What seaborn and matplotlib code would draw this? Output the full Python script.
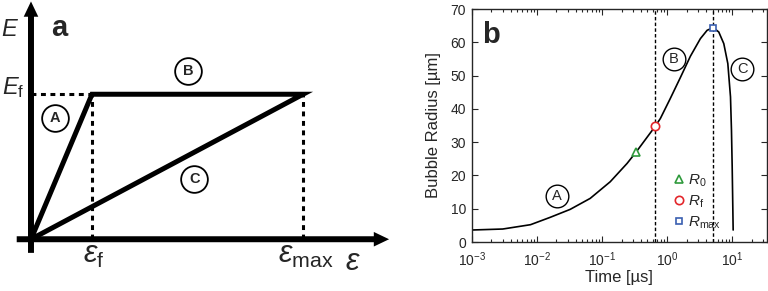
import seaborn as sns
import pandas as pd
import matplotlib
matplotlib.use('Agg')
import matplotlib.pyplot as plt
from matplotlib.patches import FancyArrowPatch
from matplotlib.lines import Line2D

sns.set_style('ticks')
plt.rcParams['font.family'] = ['Liberation Sans', 'DejaVu Sans']
plt.rcParams['mathtext.fontset'] = 'custom'
plt.rcParams['mathtext.rm'] = 'Liberation Sans'
plt.rcParams['mathtext.it'] = 'Liberation Sans:italic'
plt.rcParams['mathtext.bf'] = 'Liberation Sans:bold'

# panel a: schematic, strain in units of eps_f, energy in units of E_f
eps_f = 1.0
eps_max = 4.46
E_f = 1.0

# panel b: bubble radius vs time
time_us = [0.001, 0.003, 0.008, 0.016, 0.0325, 0.066, 0.134, 0.243, 0.337,
           0.66, 0.789, 1.12, 1.60, 2.28, 3.25, 4.12, 5.1, 6.22, 7.43,
           8.57, 9.42, 9.75, 10.0, 10.35]
radius_um = [3.6, 3.9, 5.2, 7.4, 9.8, 13.1, 18.1, 23.6, 27.1,
             34.8, 37.1, 43.1, 49.4, 55.8, 61.1, 63.6, 64.4, 63.1, 59.6,
             53.6, 43.6, 33.6, 22.6, 3.6]
t_R0, R0 = 0.337, 27.1
t_Rf, Rf = 0.66, 34.8
t_Rmax, Rmax = 5.1, 64.4

green = '#2f9a3c'
red = '#e3262b'
blue = '#3a5fb0'

fig = plt.figure(figsize=(7.68, 2.91), dpi=100)

# ---------------- panel a ----------------
ax_a = fig.add_axes([0, 0, 390 / 768, 1])
ax_a.set_xlim(-0.508, 5.885)
ax_a.set_ylim(-0.357, 1.650)
ax_a.axis('off')

arrow_style = 'simple,head_length=11,head_width=10.5,tail_width=4.3'
for start, end in [((0, -0.094), (0, 1.64)), ((-0.234, 0), (5.87, 0))]:
    ax_a.add_patch(FancyArrowPatch(start, end, arrowstyle=arrow_style,
                                   mutation_scale=1, color='k', lw=0,
                                   shrinkA=0, shrinkB=0, clip_on=False))

dash = (0, (1.6, 1.5))
ax_a.plot([0, eps_f], [E_f, E_f], color='k', lw=2.2, ls=dash)
ax_a.plot([eps_f, eps_f], [0, E_f], color='k', lw=2.2, ls=dash)
ax_a.plot([eps_max, eps_max], [0, E_f], color='k', lw=2.2, ls=dash)

# A -> B -> C as one path
ax_a.plot([0, eps_f, eps_max, 0], [0, E_f, E_f, 0], color='k', lw=3.6,
          solid_joinstyle='miter', solid_capstyle='butt')

ax_a.text(-0.48, 1.402, 'E', fontsize=17, style='italic', ha='left', va='baseline')
ax_a.text(-0.48, 1.0, r'$E_\mathrm{f}$', fontsize=17, ha='left', va='baseline')
ax_a.text(0.33, 1.40, 'a', fontsize=21, fontweight='bold', ha='left', va='baseline')
ax_a.text(0.858, -0.166, r'$\varepsilon_\mathrm{f}$', fontsize=22, ha='left', va='baseline')
ax_a.text(4.054, -0.166, r'$\varepsilon_\mathrm{max}$', fontsize=22, ha='left', va='baseline')
ax_a.text(5.15, -0.212, r'$\varepsilon$', fontsize=22, ha='left', va='baseline')

phase_a = {'A': (0.395, 0.838), 'B': (2.58, 1.162), 'C': (2.68, 0.416)}
for lab, (x, y) in phase_a.items():
    ax_a.scatter([x], [y], s=370, facecolors='white', edgecolors='k', linewidths=1.3, zorder=5)
    ax_a.text(x, y, lab, fontsize=10.5, fontweight='bold', ha='center', va='center', zorder=6)

# ---------------- panel b ----------------
ax_b = fig.add_axes([471.7 / 768, 1 - 242 / 291, 295 / 768, 233 / 291])
df = pd.DataFrame({'time': time_us, 'radius': radius_um})
sns.lineplot(data=df, x='time', y='radius', ax=ax_b, color='k', lw=1.2,
             sort=False, estimator=None)
ax_b.set_xscale('log')
ax_b.set_xlim(1e-3, 10 ** 1.53)
ax_b.set_ylim(0, 70)
ax_b.set_yticks(range(0, 71, 10))

vdash = (0, (2.5, 1.6))
ax_b.axvline(t_Rf, color='k', lw=1, ls=vdash)
ax_b.axvline(t_Rmax, color='k', lw=1, ls=vdash)

ax_b.plot([t_R0], [R0], marker='^', ms=6, mfc='white', mec=green, mew=1.2, zorder=5)
ax_b.plot([t_Rf], [Rf], marker='o', ms=6, mfc='white', mec=red, mew=1.2, zorder=5)
ax_b.plot([t_Rmax], [Rmax], marker='s', ms=5, mfc='white', mec=blue, mew=1.2, zorder=5)

handles = [
    Line2D([], [], ls='none', marker='^', ms=6, mfc='white', mec=green, mew=1.2),
    Line2D([], [], ls='none', marker='o', ms=6, mfc='white', mec=red, mew=1.2),
    Line2D([], [], ls='none', marker='s', ms=5, mfc='white', mec=blue, mew=1.2),
]
labels = [r'$R_0$', r'$R_\mathrm{f}$', r'$R_\mathrm{max}$']
ax_b.legend(handles, labels, frameon=False, fontsize=11, handlelength=0.6,
            handletextpad=0.3, labelspacing=0.3, borderpad=0,
            loc='upper left', bbox_to_anchor=(0.66, 0.33))

phase_b = {'A': (0.0203, 13.8), 'B': (1.26, 55.1), 'C': (14.3, 52.1)}
for lab, (x, y) in phase_b.items():
    ax_b.scatter([x], [y], s=266, facecolors='white', edgecolors='k', linewidths=1.0, zorder=5)
    ax_b.text(x, y, lab, fontsize=10.5, ha='center', va='center', zorder=6)

ax_b.text(0.034, 0.853, 'b', transform=ax_b.transAxes, fontsize=21,
          fontweight='bold', ha='left', va='baseline')

ax_b.tick_params(which='both', direction='in', top=True, right=True, labelsize=10, width=0.8)
ax_b.tick_params(which='major', length=4)
ax_b.tick_params(which='minor', length=2)
ax_b.tick_params(axis='x', pad=6)
ax_b.tick_params(axis='y', pad=4)
for s in ax_b.spines.values():
    s.set_linewidth(1.0)
ax_b.set_xlabel('Time [µs]', fontsize=12, labelpad=1)
ax_b.set_ylabel('Bubble Radius [µm]', fontsize=12, labelpad=7)

fig.savefig('out.png', dpi=100)
